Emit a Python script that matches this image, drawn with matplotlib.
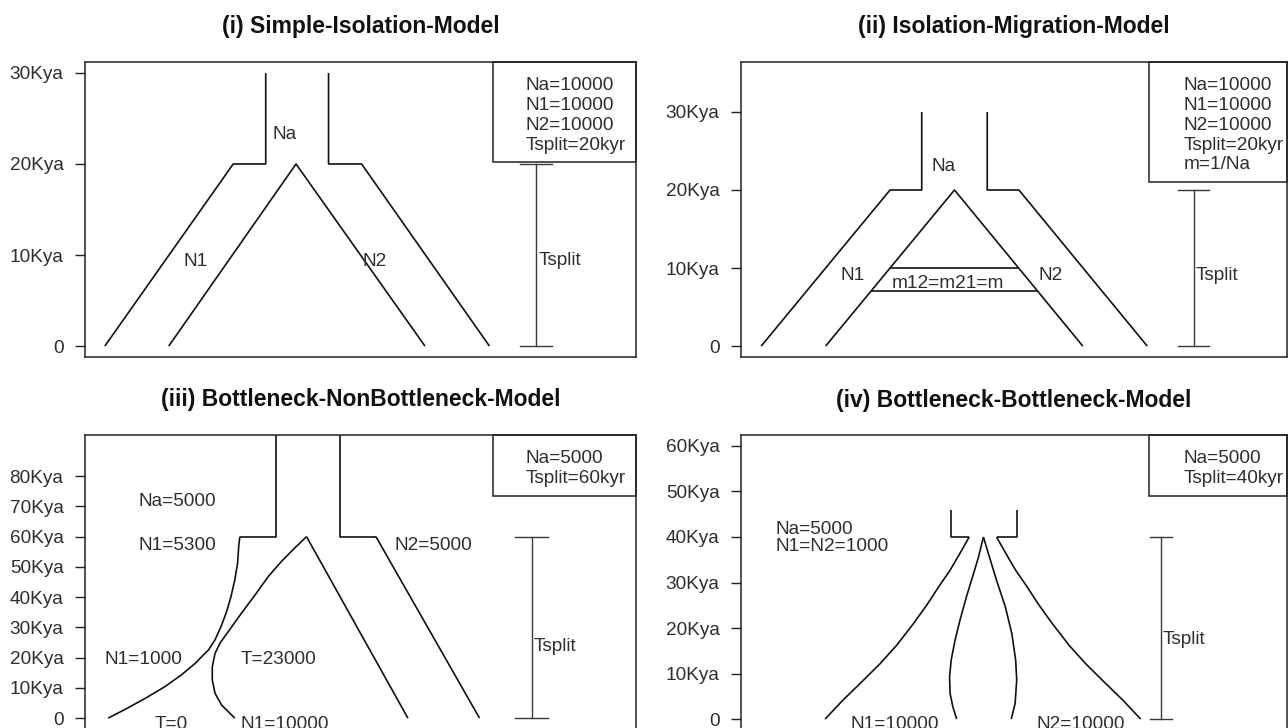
import numpy as np
import matplotlib
matplotlib.use("Agg")
import matplotlib.pyplot as plt
from matplotlib.patches import Rectangle
import matplotlib.transforms as mtransforms

plt.rcParams['font.family'] = ['Liberation Sans', 'DejaVu Sans']

# ---------------- data ----------------
# Panel (i) Simple isolation: outline times (kya) and x positions (% of panel width)
p1_left_t = [0, 20, 20, 30]
p1_left_x = [3.6, 26.9, 32.8, 32.8]
p1_right_t = [30, 20, 20, 0]
p1_right_x = [44.2, 44.2, 50.2, 73.4]
p1_inner_t = [0, 20, 0]
p1_inner_x = [15.2, 38.3, 61.7]
p1_tsplit = 20
p1_tsplit_label_t = 9.6
p1_legend = ["Na=10000", "N1=10000", "N2=10000", "Tsplit=20kyr"]
p1_ticks = [0, 10, 20, 30]
p1_ticklabels = ["0", "10Kya", "20Kya", "30Kya"]

# Panel (ii) Isolation with migration
p2_left_t = [0, 20, 20, 30]
p2_left_x = [3.7, 27.3, 33.1, 33.1]
p2_right_t = [30, 20, 20, 0]
p2_right_x = [45.1, 45.1, 50.9, 74.4]
p2_inner_t = [0, 20, 0]
p2_inner_x = [15.5, 39.1, 62.6]
p2_migration_t = [10, 7]
p2_tsplit = 20
p2_tsplit_label_t = 9.3
p2_legend = ["Na=10000", "N1=10000", "N2=10000", "Tsplit=20kyr", "m=1/Na"]
p2_ticks = [0, 10, 20, 30]
p2_ticklabels = ["0", "10Kya", "20Kya", "30Kya"]

# Panel (iii) Bottleneck / non-bottleneck
p3_na_t = [100, 60, 60]
p3_na_left_x = [34.6, 34.6, 28.1]
p3_na_right_x = [46.2, 46.2, 52.8]
p3_n1_outer_t = [60, 56.9, 51.3, 45.8, 40.2, 35.2, 30.3, 25.9, 22.5, 20.9,
                 18.1, 14.3, 10.4, 6.5, 2.9, 0]
p3_n1_outer_x = [28.1, 27.9, 27.7, 27.2, 26.5, 25.7, 24.7, 23.6, 22.4, 21.5,
                 20.0, 17.5, 14.5, 10.9, 7.3, 4.2]
p3_n1_inner_t = [60, 56.3, 51.9, 46.9, 40.8, 34.7, 28.6, 24.8, 21.4, 17.0,
                 12.6, 8.2, 4.3, 1.6, 0]
p3_n1_inner_x = [40.2, 38.1, 35.7, 33.3, 30.9, 28.4, 26.0, 24.5, 23.6, 23.1,
                 23.1, 23.6, 24.8, 26.3, 27.2]
p3_n2_inner_t = [60, 0]
p3_n2_inner_x = [40.2, 58.6]
p3_n2_outer_t = [60, 0]
p3_n2_outer_x = [52.8, 71.6]
p3_tsplit = 60
p3_tsplit_label_t = 24.5
p3_legend = ["Na=5000", "Tsplit=60kyr"]
p3_ticks = [0, 10, 20, 30, 40, 50, 60, 70, 80]
p3_ticklabels = ["0", "10Kya", "20Kya", "30Kya", "40Kya", "50Kya", "60Kya", "70Kya", "80Kya"]

# Panel (iv) Bottleneck / bottleneck
p4_na_t = [46, 40, 40]
p4_na_left_x = [38.4, 38.4, 41.8]
p4_na_right_x = [50.5, 50.5, 46.8]
p4_outer_t = [40, 36.4, 32.7, 29.4, 25.0, 21.0, 16.2, 12.2, 7.8, 4.2, 0]
p4_n1_outer_x = [41.8, 40.1, 38.3, 36.4, 34.0, 31.6, 28.5, 25.5, 21.8, 18.7, 15.4]
p4_n2_outer_x = [46.8, 48.5, 50.3, 52.2, 54.6, 57.0, 60.1, 63.1, 66.8, 69.9, 73.2]
p4_n1_inner_t = [40, 35.6, 32.0, 26.9, 21.7, 17.3, 13.0, 9.3, 5.6, 2.7, 0]
p4_n1_inner_x = [44.4, 43.5, 42.6, 41.3, 40.1, 39.2, 38.5, 38.2, 38.3, 38.8, 39.5]
p4_n2_inner_t = [40, 36.4, 30.5, 24.7, 18.8, 13.0, 8.6, 3.4, 0]
p4_n2_inner_x = [44.4, 45.3, 46.8, 48.4, 49.6, 50.3, 50.5, 50.2, 49.5]
p4_tsplit = 40
p4_tsplit_label_t = 18.0
p4_legend = ["Na=5000", "Tsplit=40kyr"]
p4_ticks = [0, 10, 20, 30, 40, 50, 60]
p4_ticklabels = ["0", "10Kya", "20Kya", "30Kya", "40Kya", "50Kya", "60Kya"]

titles = ["(i) Simple-Isolation-Model", "(ii) Isolation-Migration-Model",
          "(iii) Bottleneck-NonBottleneck-Model", "(iv) Bottleneck-Bottleneck-Model"]

# ---------------- figure ----------------
W, H = 1288, 728
fig = plt.figure(figsize=(W / 100, H / 100), dpi=100)

TXT = '#2e2e2e'
LINE = '#111111'
FS = 13.7
LW = 1.2
CAP_HALF_PT = 0.716 * FS / 2


def add_axes(l, t, r, b):
    return fig.add_axes([l / W, 1 - b / H, (r - l) / W, (b - t) / H])


def style(ax, ylim, ticks, ticklabels):
    ax.set_xlim(0, 100)
    ax.set_ylim(*ylim)
    ax.set_xticks([])
    ax.set_yticks(ticks)
    ax.set_yticklabels(ticklabels)
    ax.tick_params(axis='y', length=7.5, width=1.0, pad=8, labelsize=FS,
                   labelcolor=TXT, color='#222222')
    for s in ax.spines.values():
        s.set_linewidth(1.1)
        s.set_color('#222222')


def label(ax, x, y, s, ha='center', coords='data'):
    base = ax.transData if coords == 'data' else ax.transAxes
    tr = mtransforms.offset_copy(base, fig=fig, x=0, y=-CAP_HALF_PT, units='points')
    ax.text(x, y, s, transform=tr, ha=ha, va='baseline', fontsize=FS, color=TXT)


def line(ax, x, t):
    ax.plot(x, t, color=LINE, lw=LW, solid_joinstyle='round', solid_capstyle='butt')


def tsplit_bar(ax, x, half, top, label_t):
    kw = dict(color='#3a3a3a', lw=1.0)
    ax.plot([x, x], [0, top], **kw)
    ax.plot([x - half, x + half], [top, top], **kw)
    ax.plot([x - half, x + half], [0, 0], **kw)
    label(ax, x + 0.4, label_t, "Tsplit", ha='left')


def legend_box(ax, lines, x0, text_x, h_px):
    first, step = 21.3, 19.8
    bottom_px = first + (len(lines) - 1) * step + 19.5
    ax.add_patch(Rectangle((x0, 1 - bottom_px / h_px), 1 - x0, bottom_px / h_px,
                           transform=ax.transAxes, fill=False, lw=1.1,
                           ec='#222222', clip_on=False, zorder=3))
    for i, s in enumerate(lines):
        label(ax, text_x, 1 - (first + i * step) / h_px, s, ha='left', coords='axes')


def title(xc, yc, s):
    fig.text(xc / W, 1 - (yc + 7.8) / H, s, ha='center', va='baseline',
             fontsize=16.5, fontweight='bold', color='#111111')


# Panel (i)
ax1 = add_axes(85, 62, 636, 357)
style(ax1, (-1.2, 31.2), p1_ticks, p1_ticklabels)
line(ax1, p1_left_x, p1_left_t)
line(ax1, p1_right_x, p1_right_t)
line(ax1, p1_inner_x, p1_inner_t)
tsplit_bar(ax1, 81.9, 2.9, p1_tsplit, p1_tsplit_label_t)
legend_box(ax1, p1_legend, 0.740, 0.800, 295)
label(ax1, 36.2, 23.5, "Na")
label(ax1, 20.0, 9.5, "N1")
label(ax1, 52.6, 9.5, "N2")
title(360.5, 25.3, titles[0])

# Panel (ii)
ax2 = add_axes(741, 62, 1287, 357)
style(ax2, (-1.4, 36.4), p2_ticks, p2_ticklabels)
line(ax2, p2_left_x, p2_left_t)
line(ax2, p2_right_x, p2_right_t)
line(ax2, p2_inner_x, p2_inner_t)
for tm in p2_migration_t:
    xl = np.interp(tm, p2_inner_t[:2], p2_inner_x[:2])
    xr = np.interp(tm, p2_inner_t[:0:-1], p2_inner_x[:0:-1])
    line(ax2, [xl, xr], [tm, tm])
tsplit_bar(ax2, 82.9, 2.9, p2_tsplit, p2_tsplit_label_t)
legend_box(ax2, p2_legend, 0.747, 0.811, 295)
label(ax2, 37.1, 23.3, "Na")
label(ax2, 20.4, 9.3, "N1")
label(ax2, 56.7, 9.3, "N2")
label(ax2, 37.9, 8.3, "m12=m21=m")
title(1014, 24.8, titles[1])

# Panel (iii)
ax3 = add_axes(85, 435, 636, 729)
style(ax3, (-3.6, 93.6), p3_ticks, p3_ticklabels)
line(ax3, p3_na_left_x, p3_na_t)
line(ax3, p3_na_right_x, p3_na_t)
line(ax3, p3_n1_outer_x, p3_n1_outer_t)
line(ax3, p3_n1_inner_x, p3_n1_inner_t)
line(ax3, p3_n2_inner_x, p3_n2_inner_t)
line(ax3, p3_n2_outer_x, p3_n2_outer_t)
tsplit_bar(ax3, 81.1, 3.0, p3_tsplit, p3_tsplit_label_t)
legend_box(ax3, p3_legend, 0.740, 0.800, 294)
label(ax3, 16.7, 72.5, "Na=5000")
label(ax3, 16.7, 57.7, "N1=5300")
label(ax3, 63.3, 57.7, "N2=5000")
label(ax3, 10.6, 20.3, "N1=1000")
label(ax3, 35.1, 20.3, "T=23000")
label(ax3, 15.6, -1.2, "T=0")
label(ax3, 36.3, -1.2, "N1=10000")
title(360.5, 398, titles[2])

# Panel (iv)
ax4 = add_axes(741, 435, 1287, 730)
style(ax4, (-2.4, 62.4), p4_ticks, p4_ticklabels)
line(ax4, p4_na_left_x, p4_na_t)
line(ax4, p4_na_right_x, p4_na_t)
line(ax4, p4_n1_outer_x, p4_outer_t)
line(ax4, p4_n2_outer_x, p4_outer_t)
line(ax4, p4_n1_inner_x, p4_n1_inner_t)
line(ax4, p4_n2_inner_x, p4_n2_inner_t)
tsplit_bar(ax4, 76.9, 2.0, p4_tsplit, p4_tsplit_label_t)
legend_box(ax4, p4_legend, 0.747, 0.811, 295)
label(ax4, 6.3, 42.2, "Na=5000", ha='left')
label(ax4, 6.3, 38.4, "N1=N2=1000", ha='left')
label(ax4, 28.2, -0.6, "N1=10000")
label(ax4, 62.2, -0.6, "N2=10000")
title(1014, 399.5, titles[3])

fig.savefig("out.png", dpi=100)
